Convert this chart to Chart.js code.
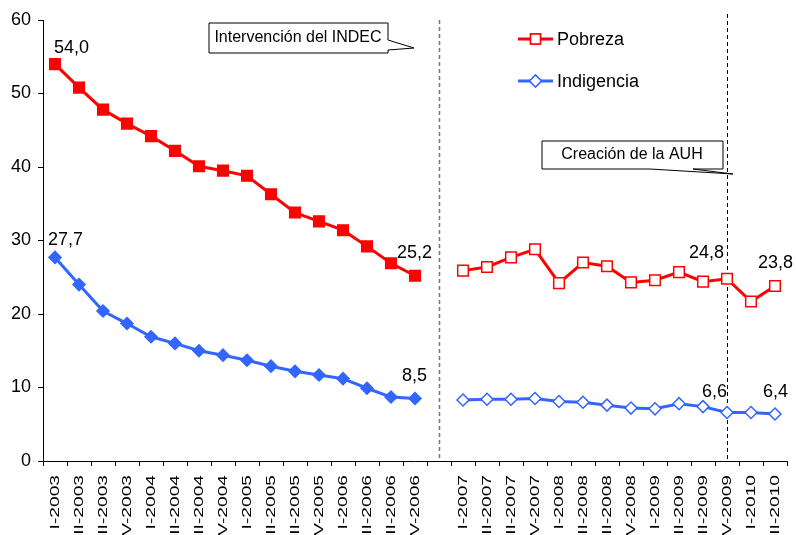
<!DOCTYPE html>
<html>
<head>
<meta charset="utf-8">
<script src="https://cdn.jsdelivr.net/npm/chart.js@4/dist/chart.umd.min.js"></script>
<style>
  body { margin: 0; background: #fff; }
  #wrap { width: 796px; height: 535px; overflow: hidden; }
</style>
</head>
<body>
<div id="wrap"><canvas id="povertyChart" width="796" height="535"></canvas></div>
<script>
// quarters, with an empty slot between 2006 and 2007
const quarters = [
    'I-2003', 'II-2003', 'III-2003', 'IV-2003',
    'I-2004', 'II-2004', 'III-2004', 'IV-2004',
    'I-2005', 'II-2005', 'III-2005', 'IV-2005',
    'I-2006', 'II-2006', 'III-2006', 'IV-2006',
    '',
    'I-2007', 'II-2007', 'III-2007', 'IV-2007',
    'I-2008', 'II-2008', 'III-2008', 'IV-2008',
    'I-2009', 'II-2009', 'III-2009', 'IV-2009',
    'I-2010', 'II-2010'
];

const pobreza = [54.0, 50.8, 47.8, 45.9, 44.2, 42.2, 40.1, 39.5, 38.8, 36.3, 33.8, 32.6, 31.4, 29.2, 26.9, 25.2,
    null,
    25.9, 26.4, 27.7, 28.8, 24.2, 27.0, 26.5, 24.3, 24.6, 25.7, 24.4, 24.8, 21.7, 23.8];

const indigencia = [27.7, 24.0, 20.4, 18.7, 16.9, 16.0, 15.0, 14.4, 13.7, 12.9, 12.2, 11.7, 11.2, 9.9, 8.7, 8.5,
    null,
    8.3, 8.4, 8.4, 8.5, 8.1, 8.0, 7.6, 7.2, 7.1, 7.8, 7.4, 6.6, 6.6, 6.4];

const yTicks = [0, 10, 20, 30, 40, 50, 60];

const RED = '#ff0000';
const BLUE = '#3366ff';
const FONT = "'Liberation Sans', Arial, sans-serif";
const firstOpen = 17; // hollow markers from I-2007 on

// which values get a number printed next to them
const valueLabels = [
    { series: 0, index: 0, dx: -1, dy: -11 },
    { series: 1, index: 0, dx: -7, dy: -12 },
    { series: 0, index: 15, dx: -18, dy: -18 },
    { series: 1, index: 15, dx: -13, dy: -18 },
    { series: 0, index: 28, dx: -38, dy: -21 },
    { series: 1, index: 28, dx: -25, dy: -15 },
    { series: 0, index: 30, dx: -17, dy: -18 },
    { series: 1, index: 30, dx: -12, dy: -17 }
];

function fmt(v) {
    return v.toFixed(1).replace('.', ',');
}

function callout(ctx, pts, text, tx, ty) {
    ctx.save();
    ctx.beginPath();
    ctx.moveTo(pts[0][0], pts[0][1]);
    for (let i = 1; i < pts.length; i++) ctx.lineTo(pts[i][0], pts[i][1]);
    ctx.closePath();
    ctx.fillStyle = '#fff';
    ctx.fill();
    ctx.strokeStyle = '#000';
    ctx.lineWidth = 1;
    ctx.stroke();
    ctx.fillStyle = '#000';
    ctx.font = '16px ' + FONT;
    ctx.textAlign = 'center';
    ctx.textBaseline = 'middle';
    ctx.fillText(text, tx, ty);
    ctx.restore();
}

const extras = {
    id: 'extras',
    beforeDatasetsDraw(chart) {
        const ctx = chart.ctx;
        const x = chart.scales.x, y = chart.scales.y;
        ctx.save();
        // break between the two series
        let gx = Math.round(x.getPixelForValue(16)) + 0.5;
        ctx.strokeStyle = '#777';
        ctx.lineWidth = 1.5;
        ctx.setLineDash([4, 3]);
        ctx.beginPath();
        ctx.moveTo(gx, y.top);
        ctx.lineTo(gx, y.bottom);
        ctx.stroke();
        // AUH line
        let ax = Math.round(x.getPixelForValue(28)) + 0.5;
        ctx.strokeStyle = '#000';
        ctx.lineWidth = 1;
        ctx.setLineDash([4, 3]);
        ctx.beginPath();
        ctx.moveTo(ax, y.top - 6);
        ctx.lineTo(ax, y.bottom);
        ctx.stroke();
        ctx.restore();
    },
    afterDraw(chart) {
        const ctx = chart.ctx;
        const x = chart.scales.x, y = chart.scales.y;

        // rotated quarter labels
        ctx.save();
        ctx.fillStyle = '#000';
        ctx.font = '12px ' + FONT;
        ctx.textAlign = 'right';
        ctx.textBaseline = 'middle';
        quarters.forEach((q, i) => {
            if (!q) return;
            ctx.save();
            ctx.translate(x.getPixelForValue(i) + 1, y.bottom + 14);
            ctx.rotate(-Math.PI / 2);
            ctx.scale(1.6, 1);
            ctx.fillText(q, 0, 0);
            ctx.restore();
        });
        ctx.restore();

        // value labels
        ctx.save();
        ctx.fillStyle = '#000';
        ctx.font = '18px ' + FONT;
        ctx.textAlign = 'left';
        ctx.textBaseline = 'alphabetic';
        valueLabels.forEach(l => {
            const v = chart.data.datasets[l.series].data[l.index];
            const px = x.getPixelForValue(l.index), py = y.getPixelForValue(v);
            ctx.fillText(fmt(v), px + l.dx, py + l.dy);
        });
        ctx.restore();

        // legend
        const items = [
            { text: 'Pobreza', color: RED, style: 'rect', r: 7, y: 39 },
            { text: 'Indigencia', color: BLUE, style: 'rectRot', r: 6, y: 81 }
        ];
        items.forEach(it => {
            ctx.save();
            ctx.strokeStyle = it.color;
            ctx.lineWidth = 3;
            ctx.beginPath();
            ctx.moveTo(518, it.y);
            ctx.lineTo(553, it.y);
            ctx.stroke();
            ctx.fillStyle = '#fff';
            ctx.lineWidth = 1.5;
            Chart.helpers.drawPoint(ctx, { pointStyle: it.style, radius: it.r, borderWidth: 1.5 }, 535.5, it.y);
            ctx.fill();
            ctx.stroke();
            ctx.fillStyle = '#000';
            ctx.font = '18px ' + FONT;
            ctx.textBaseline = 'middle';
            ctx.fillText(it.text, 557, it.y + 1);
            ctx.restore();
        });

        // callouts
        callout(ctx, [[209, 23], [388, 23], [388, 40], [414, 48], [388, 50], [388, 53], [209, 53]],
            'Intervención del INDEC', 298, 38);
        callout(ctx, [[542, 141], [723, 141], [723, 169], [693, 169], [733, 174], [650, 169], [542, 169]],
            'Creación de la AUH', 632, 155);
    }
};

const ctx = document.getElementById('povertyChart').getContext('2d');
Chart.defaults.font.family = FONT;
Chart.defaults.color = '#000';

var chart = new Chart(ctx, {
    type: 'line',
    data: {
        labels: quarters,
        datasets: [{
            label: 'Pobreza',
            data: pobreza,
            borderColor: RED,
            borderWidth: 3,
            pointStyle: 'rect',
            pointRadius: 7.5,
            pointBorderWidth: 1.5,
            pointBorderColor: RED,
            pointBackgroundColor: c => c.dataIndex < firstOpen ? RED : '#fff',
            spanGaps: false
        }, {
            label: 'Indigencia',
            data: indigencia,
            borderColor: BLUE,
            borderWidth: 3,
            pointStyle: 'rectRot',
            pointRadius: 6,
            pointBorderWidth: 1.5,
            pointBorderColor: BLUE,
            pointBackgroundColor: c => c.dataIndex < firstOpen ? BLUE : '#fff',
            spanGaps: false
        }]
    },
    options: {
        responsive: false,
        animation: false,
        layout: { padding: { top: 20, right: 1, left: 0, bottom: 0 } },
        plugins: {
            legend: { display: false },
            tooltip: { enabled: false }
        },
        scales: {
            x: {
                offset: true,
                grid: { offset: true, drawOnChartArea: false, drawTicks: true, tickLength: 5, color: '#000' },
                border: { display: true, color: '#000', width: 1 },
                ticks: { display: false },
                afterFit: s => { s.height = 74; }
            },
            y: {
                min: 0,
                max: 60,
                afterBuildTicks: s => { s.ticks = yTicks.map(v => ({ value: v })); },
                grid: { drawOnChartArea: false, drawTicks: true, tickLength: 5, color: '#000' },
                border: { display: true, color: '#000', width: 1 },
                ticks: { font: { size: 18 }, color: '#000', padding: 7 },
                afterFit: s => { s.width = 43; }
            }
        }
    },
    plugins: [extras]
});
</script>
</body>
</html>
